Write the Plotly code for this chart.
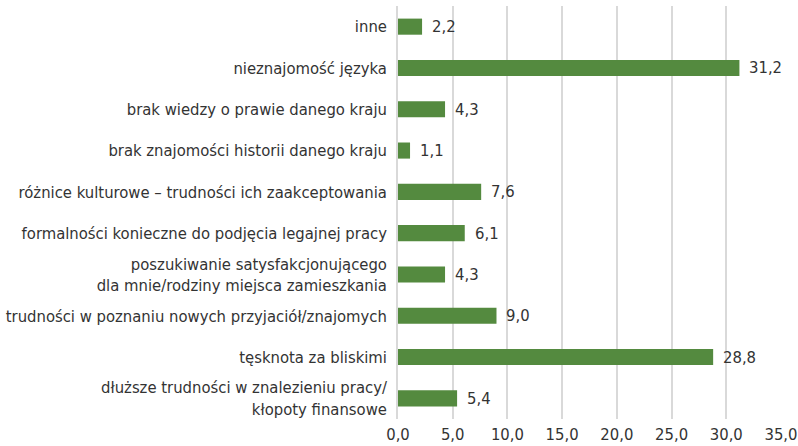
import plotly.graph_objects as go

categories = [
    "inne",
    "nieznajomość języka",
    "brak wiedzy o prawie danego kraju",
    "brak znajomości historii danego kraju",
    "różnice kulturowe – trudności ich zaakceptowania",
    "formalności konieczne do podjęcia legajnej pracy",
    "poszukiwanie satysfakcjonującego<br>dla mnie/rodziny miejsca zamieszkania",
    "trudności w poznaniu nowych przyjaciół/znajomych",
    "tęsknota za bliskimi",
    "dłuższe trudności w znalezieniu pracy/<br>kłopoty finansowe",
]
values = [2.2, 31.2, 4.3, 1.1, 7.6, 6.1, 4.3, 9.0, 28.8, 5.4]
x_ticks = [0, 5, 10, 15, 20, 25, 30, 35]

FONT = "DejaVu Sans Condensed, Liberation Sans Narrow, sans-serif"
TEXT = "#333333"
SIZE = 16.5


def fmt(v):
    return f"{v:.1f}".replace(".", ",")


fig = go.Figure(
    go.Bar(
        x=values,
        y=categories,
        orientation="h",
        marker=dict(color="#548a3f", line=dict(width=0)),
        width=0.39,
        hoverinfo="x+y",
    )
)

# value labels placed just past the end of each bar
for cat, v in zip(categories, values):
    fig.add_annotation(
        x=v, y=cat, text=fmt(v),
        xref="x", yref="y",
        xanchor="left", yanchor="middle",
        xshift=8, showarrow=False,
        font=dict(family=FONT, size=SIZE, color=TEXT),
    )

fig.update_layout(
    width=798,
    height=446,
    margin=dict(l=398, r=17, t=6, b=27, autoexpand=False),
    paper_bgcolor="white",
    plot_bgcolor="white",
    showlegend=False,
    separators=",.",
    font=dict(family=FONT, size=SIZE, color=TEXT),
)
fig.update_xaxes(
    range=[0, 35],
    tickvals=x_ticks,
    tickformat=".1f",
    showgrid=True,
    gridcolor="#d9d9d9",
    gridwidth=1.5,
    zeroline=False,
    showline=False,
    ticks="",
    automargin=False,
    ticklabelstandoff=3,
    tickfont=dict(family=FONT, size=SIZE, color=TEXT),
)
fig.update_yaxes(
    autorange="reversed",
    showgrid=False,
    showline=True,
    linecolor="#d9d9d9",
    linewidth=1.5,
    ticks="",
    automargin=False,
    ticklabelstandoff=6,
    tickfont=dict(family=FONT, size=SIZE, color=TEXT),
)

fig.write_html("out.html")
